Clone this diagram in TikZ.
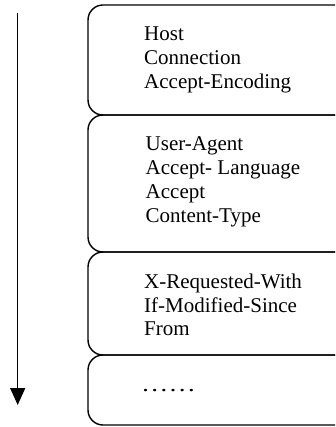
\documentclass[tikz,border=0pt]{standalone}
\usepackage{fontspec}
\usepackage{graphicx}
\setmainfont{Liberation Serif}
\usetikzlibrary{arrows.meta}
\begin{document}
\begin{tikzpicture}[x=1pt,y=-1pt,
  box/.style={draw, line width=1.4pt, rounded corners=15pt, rectangle, inner sep=0pt, minimum width=272pt},
  txt/.style={anchor=west, inner sep=0pt, align=left, font=\fontsize{21pt}{23.8pt}\selectfont},
  flow/.style={line width=1.4pt, -{Triangle[width=15pt,length=17pt]}}]
\useasboundingbox (0,0) rectangle (335,427);
\clip (0,0) rectangle (335,427);
\node[box, minimum height=110pt] (b1) at (224,60) {};
\node[box, minimum height=137pt] (b2) at (224,183.5) {};
\node[box, minimum height=103pt] (b3) at (224,303.5) {};
\node[box, minimum height=70pt] (b4) at (224,390) {};
\node[txt] (t1) at (144,60) {Host\\Connection\\Accept-Encoding};
\node[txt] (t2) at (145.5,182) {User-Agent\\Accept- Language\\Accept\\Content-Type};
\node[txt] (t3) at (144,305) {X-Requested-With\\If-Modified-Since\\From};
\node[txt] (t4) at (141,391) {\scalebox{1.3}[1]{……}};
\coordinate (a1) at (17.7,13);
\coordinate (a2) at (17.7,405);
\draw[flow] (a1) -- (a2);
\end{tikzpicture}
\end{document}
